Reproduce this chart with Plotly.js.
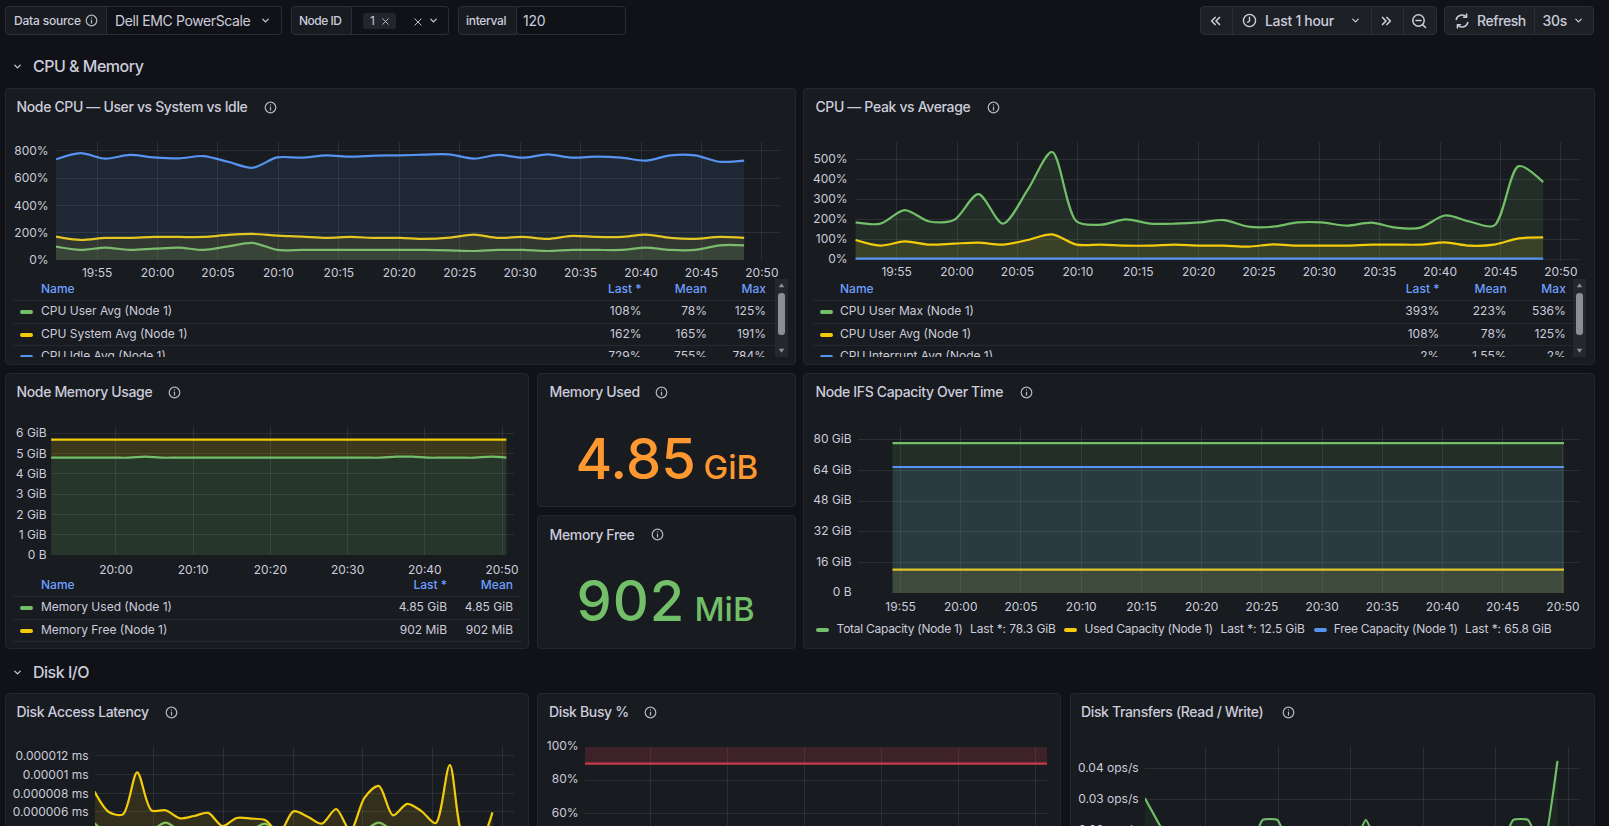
<!DOCTYPE html>
<html><head><meta charset="utf-8">
<script src="https://cdn.plot.ly/plotly-3.0.1.min.js"></script>
<style>
html,body{margin:0;padding:0;width:1609px;height:826px;overflow:hidden;background:#111217;font-family:Inter,"Noto Sans",sans-serif;color:#ccccdc;}
#root{position:absolute;left:0;top:0;width:1609px;height:826px;overflow:hidden;}
.box{position:absolute;box-sizing:border-box;}
.panel{background:#181b1f;border:1px solid #24272c;border-radius:4px;}
.ctl{border:1px solid #2b2e34;border-radius:4px;}
.txt{position:absolute;white-space:nowrap;line-height:1;}
.plot{position:absolute;}
svg.ic{position:absolute;overflow:visible;}
</style></head><body><div id="root"></div>
<script>
// ---------- time stamps ----------
const cpuTimes = ["19:51:36","19:53:38","19:55:40","19:57:42","19:59:44","20:01:46","20:03:48","20:05:50","20:07:52","20:09:54","20:11:56","20:13:58","20:16:00","20:18:02","20:20:04","20:22:06","20:24:08","20:26:10","20:28:12","20:30:14","20:32:16","20:34:18","20:36:20","20:38:22","20:40:24","20:42:26","20:44:28","20:46:30","20:48:32"];
const memTimes = ["19:51:36","19:53:38","19:55:40","19:57:42","19:59:44","20:01:46","20:03:48","20:05:50","20:07:52","20:09:54","20:11:56","20:13:58","20:16:00","20:18:02","20:20:04","20:22:06","20:24:08","20:26:10","20:28:12","20:30:14","20:32:16","20:34:18","20:36:20","20:38:22","20:40:24","20:42:26","20:44:28","20:46:30","20:48:32","20:50:34"];
const ifsTimes = ["19:54:20","19:56:20","19:58:20","20:00:20","20:02:20","20:04:20","20:06:20","20:08:20","20:10:20","20:12:20","20:14:20","20:16:20","20:18:20","20:20:20","20:22:20","20:24:20","20:26:20","20:28:20","20:30:20","20:32:20","20:34:20","20:36:20","20:38:20","20:40:20","20:42:20","20:44:20","20:46:20","20:48:20","20:50:05"];
const busyTimes = ["19:51:25","20:51:31"];

// ---------- Node CPU ----------
const cpuUserAvg   = [98,74,91,74,83,91,74,100,125,74,74,74,74,74,74,74,71,66,74,74,66,74,74,74,91,74,74,108,108];
const cpuSystemAvg = [172,147,162,162,169,169,169,184,191,179,172,162,169,162,162,155,164,186,162,169,155,177,169,169,186,162,155,169,162];
const cpuIdleAvg   = [739,784,744,771,753,746,763,721,677,753,751,768,758,766,768,773,775,744,771,751,775,751,758,751,729,768,768,721,729];

// ---------- CPU peak ----------
const cpuUserMax      = [183,177,245,188,195,325,177,345,536,188,172,198,177,177,183,195,162,162,183,183,167,182,157,157,218,188,167,465,385];
const cpuPeakUserAvg  = [95,67,88,72,77,82,72,95,123,72,72,67,67,72,67,67,62,73,67,67,67,72,72,72,83,67,72,103,108];
const cpuInterruptAvg = [2,2,2,1,2,2,1,2,2,2,1,2,1,2,2,1,2,1,2,1,2,2,1,2,1,2,1,2,2];

// ---------- Memory (as drawn on the chart) ----------
const memUsedLine = [4.79,4.79,4.79,4.79,4.79,4.79,4.84,4.79,4.79,4.79,4.79,4.79,4.79,4.79,4.79,4.79,4.79,4.79,4.79,4.79,4.79,4.79,4.84,4.84,4.79,4.79,4.79,4.79,4.84,4.79];
const memTopLine  = [5.68,5.68,5.68,5.68,5.68,5.68,5.68,5.68,5.68,5.68,5.68,5.68,5.68,5.68,5.68,5.68,5.68,5.68,5.68,5.68,5.68,5.68,5.68,5.68,5.68,5.68,5.68,5.68,5.68,5.68];
const memTickVals  = [0,1,2,3,4,5,6];
const memTickText  = ["0 B","1 GiB","2 GiB","3 GiB","4 GiB","5 GiB","6 GiB"];

// ---------- IFS capacity ----------
const ifsTotal = [78.3,78.3,78.3,78.3,78.3,78.3,78.3,78.3,78.3,78.3,78.3,78.3,78.3,78.3,78.3,78.3,78.3,78.3,78.3,78.3,78.3,78.3,78.3,78.3,78.3,78.3,78.3,78.3,78.3];
const ifsUsed  = [12.2,12.2,12.2,12.2,12.2,12.2,12.2,12.2,12.2,12.2,12.2,12.2,12.2,12.2,12.2,12.2,12.2,12.2,12.2,12.2,12.2,12.2,12.2,12.2,12.2,12.2,12.2,12.2,12.2];
const ifsFree  = [65.8,65.8,65.8,65.8,65.8,65.8,65.8,65.8,65.8,65.8,65.8,65.8,65.8,65.8,65.8,65.8,65.8,65.8,65.8,65.8,65.8,65.8,65.8,65.8,65.8,65.8,65.8,65.8,65.8];
const ifsTickVals = [0,16,32,48,64,80];
const ifsTickText = ["0 B","16 GiB","32 GiB","48 GiB","64 GiB","80 GiB"];

// ---------- Disk latency (ms) ----------
const latencyA = [8.18e-6,6.0e-6,5.75e-6,10.25e-6,6.18e-6,6.18e-6,5.32e-6,5.57e-6,5.9e-6,4.5e-6,5.36e-6,5.29e-6,5.14e-6,3.8e-6,6.07e-6,5.5e-6,4.75e-6,6.32e-6,4.0e-6,7.54e-6,8.79e-6,5.64e-6,6.86e-6,6.1e-6,4.8e-6,11.03e-6,3.0e-6,2.5e-6,5.96e-6];
const latencyB = [4.8e-6,3.5e-6,3.0e-6,3.5e-6,4.0e-6,4.85e-6,4.0e-6,3.5e-6,3.5e-6,3.3e-6,3.5e-6,4.0e-6,4.75e-6,3.5e-6,3.5e-6,3.0e-6,3.0e-6,3.2e-6,3.0e-6,4.0e-6,4.85e-6,4.0e-6,3.5e-6,3.2e-6,3.0e-6,3.0e-6,2.8e-6,2.8e-6,3.0e-6];
const latTickVals = [0,2e-6,4e-6,6e-6,8e-6,1e-5,1.2e-5];
const latTickText = ["0 ms","0.000002 ms","0.000004 ms","0.000006 ms","0.000008 ms","0.00001 ms","0.000012 ms"];

// ---------- Disk busy ----------
const busyThreshold = [90,90];
const busyCeiling   = [100,100];
const busyTickVals  = [0,20,40,60,80,100];
const busyTickText  = ["0%","20%","40%","60%","80%","100%"];

// ---------- Disk transfers ----------
const transfers = [0.0303,0.0217,0.0133,0.0133,0.0133,0.0133,0.0133,0.0133,0.0233,0.0233,0.0133,0.0133,0.0133,0.0133,0.0133,0.0233,0.0133,0.0133,0.0133,0.0133,0.0133,0.0133,0.0133,0.0133,0.0133,0.0233,0.0233,0.0133,0.0423];
const xferTickVals = [0,0.01,0.02,0.03,0.04];
const xferTickText = ["0 ops/s","0.01 ops/s","0.02 ops/s","0.03 ops/s","0.04 ops/s"];

// ---------- legends ----------
const cpuLegendRows  = [["CPU User Avg (Node 1)","108%","78%","125%"],["CPU System Avg (Node 1)","162%","165%","191%"],["CPU Idle Avg (Node 1)","729%","755%","784%"]];
const peakLegendRows = [["CPU User Max (Node 1)","393%","223%","536%"],["CPU User Avg (Node 1)","108%","78%","125%"],["CPU Interrupt Avg (Node 1)","2%","1.55%","2%"]];
const memLegendRows  = [["Memory Used (Node 1)","4.85 GiB","4.85 GiB"],["Memory Free (Node 1)","902 MiB","902 MiB"]];
const ifsLegendItems = [["Total Capacity (Node 1)","Last *: 78.3 GiB"],["Used Capacity (Node 1)","Last *: 12.5 GiB"],["Free Capacity (Node 1)","Last *: 65.8 GiB"]];

// ---------- colours ----------
const GREEN="#73BF69", YELLOW="#F2CC0C", BLUE="#5794F2", RED="#C93B4D", TEXT="#ccccdc", HEAD="#6E9FFF";
const DAY="2024-01-01 ";
const root=document.getElementById('root');

function box(parent,x,y,w,h,cls,css){const d=document.createElement('div');d.className='box '+(cls||'');d.style.cssText=`left:${x}px;top:${y}px;width:${w}px;height:${h}px;`+(css||'');parent.appendChild(d);return d;}
// x: left or (if right:true) right edge; y: vertical centre of the text
function txt(parent,x,y,s,o){o=o||{};const d=document.createElement('div');d.className='txt';const fs=o.size||12;
  d.textContent=s;d.style.cssText=`top:${y-fs/2}px;font-size:${fs}px;font-weight:${o.weight||400};color:${o.color||TEXT};letter-spacing:${o.ls||0}px;`+(o.right?`right:${1609-x}px;`:`left:${x}px;`);parent.appendChild(d);return d;}
function svg(parent,cx,cy,size,inner,stroke,sw){const n=document.createElementNS('http://www.w3.org/2000/svg','svg');n.setAttribute('class','ic');n.setAttribute('viewBox','-8 -8 16 16');n.setAttribute('width',size);n.setAttribute('height',size);n.style.left=(cx-size/2)+'px';n.style.top=(cy-size/2)+'px';n.innerHTML=`<g fill="none" stroke="${stroke||'#b4b6c0'}" stroke-width="${sw||1.5}" stroke-linecap="round" stroke-linejoin="round">${inner}</g>`;parent.appendChild(n);}
const infoIcon='<circle r="6.5"/><line x1="0" y1="-0.6" x2="0" y2="3.2"/><line x1="0" y1="-3.4" x2="0" y2="-3.1"/>';
const chev='<polyline points="-4,-2 0,2 4,-2"/>';
function info(cx,cy){svg(root,cx,cy,13,infoIcon);}
function chevron(cx,cy,sz){svg(root,cx,cy,sz||11,chev,TEXT,1.8);}
function title(x,y,s,ix){txt(root,x,y,s,{size:14,weight:500,ls:-0.35});info(ix,y);}
function swatch(parent,x,cy,c,w){box(parent,x,cy-2,w||13,4,'',`background:${c};border-radius:2px;`);}

// ---------- toolbar ----------
function ctl(x,w,css){return box(root,x,6,w,29,'ctl',css||'');}
ctl(5,101.5,'background:#181b1f;border-radius:4px 0 0 4px;');ctl(106,175.5,'border-left:none;border-radius:0 4px 4px 0;');
txt(root,14,20.5,'Data source',{weight:500,ls:-0.2});info(91,20.5);
txt(root,115,20.5,'Dell EMC PowerScale',{size:14,ls:-0.37});chevron(265.7,20.5);
ctl(290.5,61,'background:#181b1f;border-radius:4px 0 0 4px;');ctl(351,98,'border-left:none;border-radius:0 4px 4px 0;');
txt(root,299,20.5,'Node ID',{weight:500,ls:-0.5});
box(root,363,13,33,16,'','background:#22252b;border-radius:3px;');txt(root,370,20.5,'1',{});
svg(root,385.6,21,9,'<line x1="-5" y1="-5" x2="5" y2="5"/><line x1="-5" y1="5" x2="5" y2="-5"/>',TEXT);
svg(root,418,21.5,10,'<line x1="-5" y1="-5" x2="5" y2="5"/><line x1="-5" y1="5" x2="5" y2="-5"/>',TEXT);chevron(433,20.5);
ctl(458,58.5,'background:#181b1f;border-radius:4px 0 0 4px;');ctl(516,110,'border-radius:4px;');
txt(root,466,20.5,'interval',{weight:500,ls:-0.3});txt(root,523,20.5,'120',{size:14,ls:-0.3});
box(root,1200,6,237,29,'ctl','background:#1d2025;');
box(root,1232,6,1,29,'','background:#2b2e34;');box(root,1371,6,1,29,'','background:#2b2e34;');box(root,1403,6,1,29,'','background:#2b2e34;');
svg(root,1216,20.5,14,'<polyline points="-1,-4 -5,0 -1,4"/><polyline points="4,-4 0,0 4,4"/>',TEXT,1.9);
svg(root,1249,20.5,15,'<circle r="6.5"/><polyline points="0,-3.5 0,0.5 -2,2"/>',TEXT);
txt(root,1265,20.5,'Last 1 hour',{size:14,weight:500,ls:-0.3});chevron(1355,20.5);
svg(root,1386,20.5,14,'<polyline points="1,-4 5,0 1,4"/><polyline points="-4,-4 0,0 -4,4"/>',TEXT,1.9);
svg(root,1419,20.5,16,'<circle cx="-0.5" cy="-0.5" r="5.7"/><line x1="3.6" y1="3.6" x2="6.5" y2="6.5"/><line x1="-3" y1="-0.5" x2="2" y2="-0.5"/>',TEXT);
box(root,1444,6,150,29,'ctl','background:#1d2025;');box(root,1534,6,1,29,'','background:#2b2e34;');
svg(root,1461.7,20.5,16,'<path d="M-5.8,-1.5 A6,6 0 0 1 4.2,-4.3"/><polyline points="4.6,-7 4.6,-3.8 1.5,-3.8"/><path d="M5.8,1.5 A6,6 0 0 1 -4.2,4.3"/><polyline points="-4.6,7 -4.6,3.8 -1.5,3.8"/>',TEXT);
txt(root,1477,20.5,'Refresh',{size:14,weight:500,ls:-0.42});txt(root,1542.6,20.5,'30s',{size:14,weight:500,ls:-0.3});chevron(1578.5,20.5);

// ---------- section rows ----------
chevron(17.4,66);txt(root,33,66,'CPU & Memory',{size:16,weight:500,ls:-0.5});
chevron(17.4,672);txt(root,33,672,'Disk I/O',{size:16,weight:500,ls:-0.5});

// ---------- panels ----------
box(root,5,88,791,277,'panel');box(root,803,88,792,277,'panel');
box(root,5,373,523.5,276,'panel');box(root,537,373,259,134,'panel');box(root,537,515,259,134,'panel');box(root,803,373,792,276,'panel');
box(root,5,693,523.5,300,'panel');box(root,537,693,524,300,'panel');box(root,1070,693,525,300,'panel');
title(16.5,107,'Node CPU — User vs System vs Idle',270);
title(815.4,107,'CPU — Peak vs Average',993);
title(16.5,392,'Node Memory Usage',174.6);
title(549.5,392,'Memory Used',661);
title(549.5,534.7,'Memory Free',657);
title(815.4,392,'Node IFS Capacity Over Time',1026.4);
title(16.6,712.3,'Disk Access Latency',171.4);
title(549,712.3,'Disk Busy %',650.5);
title(1081,712.3,'Disk Transfers (Read / Write)',1288);

// ---------- stat values ----------
txt(root,575.5,459,'4.85',{size:56,weight:500,color:'#FF9830'});txt(root,703.5,467,'GiB',{size:33,weight:500,color:'#FF9830'});
txt(root,576.5,601,'902',{size:56,weight:500,color:GREEN,ls:0.9});txt(root,694.5,609,'MiB',{size:33,weight:500,color:GREEN});

// ---------- table legends ----------
function tableLegend(cfg){
  const clip=box(root,0,0,1609,cfg.clip,'','overflow:hidden;');
  txt(clip,cfg.nameX,cfg.headY,'Name',{color:HEAD,weight:500});
  cfg.heads.forEach((h,i)=>txt(clip,cfg.cols[i],cfg.headY,h,{color:HEAD,weight:500,right:true}));
  cfg.rows.forEach((r,j)=>{
    const cy=cfg.rowY[j];
    box(clip,cfg.ruleL,cfg.rules[j],cfg.ruleR-cfg.ruleL,1,'','background:#25282d;');
    swatch(clip,cfg.swX,cy+1,cfg.colors[j]);
    txt(clip,cfg.nameX,cy,r[0]);
    cfg.cols.forEach((c,i)=>txt(clip,c,cy,r[i+1],{right:true}));
  });
  (cfg.extraRules||[]).forEach(y=>box(clip,cfg.ruleL,y,cfg.ruleR-cfg.ruleL,1,'','background:#25282d;'));
}
function scrollbar(x){
  box(root,x,279,13,78,'','background:#24272c;');
  box(root,x+3,293,6.5,42,'','background:#8c8e94;border-radius:3px;');
  svg(root,x+6.5,285,9,'<polygon points="-5,3 5,3 0,-4" fill="#8c8e94" stroke="none"/>');
  svg(root,x+6.5,350,9,'<polygon points="-5,-3 5,-3 0,4" fill="#8c8e94" stroke="none"/>');
}
tableLegend({clip:357,nameX:41,swX:20,headY:289,heads:['Last *','Mean','Max'],cols:[641.5,707,766],rows:cpuLegendRows,rowY:[311,334,356],rules:[300,323,345],ruleL:13,ruleR:775,colors:[GREEN,YELLOW,BLUE]});
tableLegend({clip:357,nameX:840,swX:820,headY:289,heads:['Last *','Mean','Max'],cols:[1439.4,1506.6,1565.8],rows:peakLegendRows,rowY:[311,334,356],rules:[300,323,345],ruleL:812,ruleR:1573,colors:[GREEN,YELLOW,BLUE]});
scrollbar(775);scrollbar(1573);
tableLegend({clip:649,nameX:41,swX:20,headY:585,heads:['Last *','Mean'],cols:[447,513],rows:memLegendRows,rowY:[607,630],rules:[596,619],extraRules:[641],ruleL:13,ruleR:521,colors:[GREEN,YELLOW]});
const ifsLegendPos=[[816,836.6,970],[1064,1084.6,1220.5],[1313.6,1333.7,1465]];
const ifsColors=[GREEN,YELLOW,BLUE];
ifsLegendItems.forEach((it,i)=>{const p=ifsLegendPos[i];swatch(root,p[0],630,ifsColors[i]);txt(root,p[1],629,it[0],{ls:-0.27});txt(root,p[2],629,it[1],{ls:-0.1});});

// ---------- charts ----------
const hex=(c,a)=>{const n=parseInt(c.slice(1),16);return `rgba(${n>>16},${(n>>8)&255},${n&255},${a})`;};
function series(t,y,color,o){o=o||{};return {x:t.map(s=>DAY+s),y:y,type:'scatter',mode:'lines',
  line:{color:color,width:o.width||2.2,shape:o.shape||'spline',smoothing:o.smooth==null?0.85:o.smooth},
  fill:o.fill||'tozeroy',fillcolor:hex(color,o.alpha==null?0.12:o.alpha),hoverinfo:'skip',showlegend:false};}
const GRID='rgba(204,204,220,0.11)';
const ML=90, MT=20, MB=30, MR=15;
function chart(p){
  const h=p.bottom-p.top, H=h+MT+MB, W=p.right-p.left+ML+MR;
  const d=document.createElement('div');d.className='plot';
  d.style.cssText=`left:${p.left-ML}px;top:${p.top-MT}px;width:${W}px;height:${H}px;`;
  root.appendChild(d);
  Plotly.newPlot(d,p.traces,{
    width:W,height:H,paper_bgcolor:'rgba(0,0,0,0)',plot_bgcolor:'rgba(0,0,0,0)',
    margin:{l:ML,r:MR,t:MT,b:MB,pad:0},showlegend:false,hovermode:false,
    font:{family:'Inter, "Noto Sans", sans-serif',size:12,color:TEXT},
    xaxis:{type:'date',range:[DAY+p.x0,DAY+p.x1],tick0:DAY+p.tick0,dtick:p.dtick,tickformat:'%H:%M',
      gridcolor:GRID,gridwidth:1,showline:false,zeroline:false,ticks:'outside',ticklen:p.xlen==null?3:p.xlen,tickcolor:'rgba(0,0,0,0)',tickfont:{size:12,color:TEXT},tickangle:0},
    yaxis:{range:p.yr,tickmode:'array',tickvals:p.tv,ticktext:p.tt,gridcolor:GRID,gridwidth:1,showline:false,zeroline:false,
      ticks:'outside',ticklen:p.ylen,tickcolor:'rgba(0,0,0,0)',tickfont:{size:12,color:TEXT},ticklabelshift:p.shift||0}
  },{staticPlot:true,displayModeBar:false});
}
const pctVals=[0,200,400,600,800], pctText=["0%","200%","400%","600%","800%"];
const peakVals=[0,100,200,300,400,500], peakText=["0%","100%","200%","300%","400%","500%"];
chart({left:56,right:780,top:141.7,bottom:259.7,ylen:4,xlen:2,shift:-1.5,x0:'19:51:36',x1:'20:51:30',tick0:'19:55',dtick:300000,yr:[0,866],tv:pctVals,tt:pctText,
  traces:[series(cpuTimes,cpuUserAvg,GREEN,{alpha:0.1}),series(cpuTimes,cpuSystemAvg,YELLOW,{alpha:0.1}),series(cpuTimes,cpuIdleAvg,BLUE,{alpha:0.1})]});
chart({left:855,right:1578.5,top:141.7,bottom:261,ylen:4,xlen:0,shift:-1.5,x0:'19:51:33',x1:'20:51:30',tick0:'19:55',dtick:300000,yr:[-10,586],tv:peakVals,tt:peakText,
  traces:[series(cpuTimes,cpuUserMax,GREEN),series(cpuTimes,cpuPeakUserAvg,YELLOW),series(cpuTimes,cpuInterruptAvg,BLUE,{shape:'linear'})]});
chart({left:51,right:514,top:426.7,bottom:555,ylen:1,xlen:4,x0:'19:51:35',x1:'20:51:33',tick0:'20:00',dtick:600000,yr:[0,6.3],tv:memTickVals,tt:memTickText,
  traces:[series(memTimes,memUsedLine,GREEN,{alpha:0.17}),
          series(memTimes,memTopLine,YELLOW,{alpha:0.17,fill:'tonexty'})]});
chart({left:858,right:1578.5,top:426.7,bottom:593,ylen:3,shift:-1,x0:'19:51:28',x1:'20:51:20',tick0:'19:55',dtick:300000,yr:[0,86.7],tv:ifsTickVals,tt:ifsTickText,
  traces:[series(ifsTimes,ifsTotal,GREEN,{shape:'linear'}),series(ifsTimes,ifsUsed,YELLOW,{shape:'linear'}),series(ifsTimes,ifsFree,BLUE,{shape:'linear'})]});
chart({left:95,right:514,top:747.3,bottom:868.3,ylen:3,x0:'19:51:40',x1:'20:51:37',tick0:'20:00',dtick:600000,yr:[0,1.296e-5],tv:latTickVals,tt:latTickText,
  traces:[series(cpuTimes,latencyB,GREEN),series(cpuTimes,latencyA,YELLOW)]});
chart({left:584.6,right:1046.4,top:747,bottom:913,ylen:3,shift:-1,x0:'19:51:25',x1:'20:51:31',tick0:'20:00',dtick:600000,yr:[0,100],tv:busyTickVals,tt:busyTickText,
  traces:[series(busyTimes,busyThreshold,RED,{shape:'linear',fill:'none'}),
          Object.assign(series(busyTimes,busyCeiling,RED,{shape:'linear',fill:'tonexty',alpha:0.22}),{line:{width:0,color:RED}})]});
chart({left:1145,right:1579,top:747.3,bottom:892.3,ylen:3,x0:'19:51:38',x1:'20:51:30',tick0:'20:00',dtick:600000,yr:[0,0.0468],tv:xferTickVals,tt:xferTickText,
  traces:[series(cpuTimes,transfers,GREEN,{smooth:0.4,alpha:0.07})]});
</script></body></html>
